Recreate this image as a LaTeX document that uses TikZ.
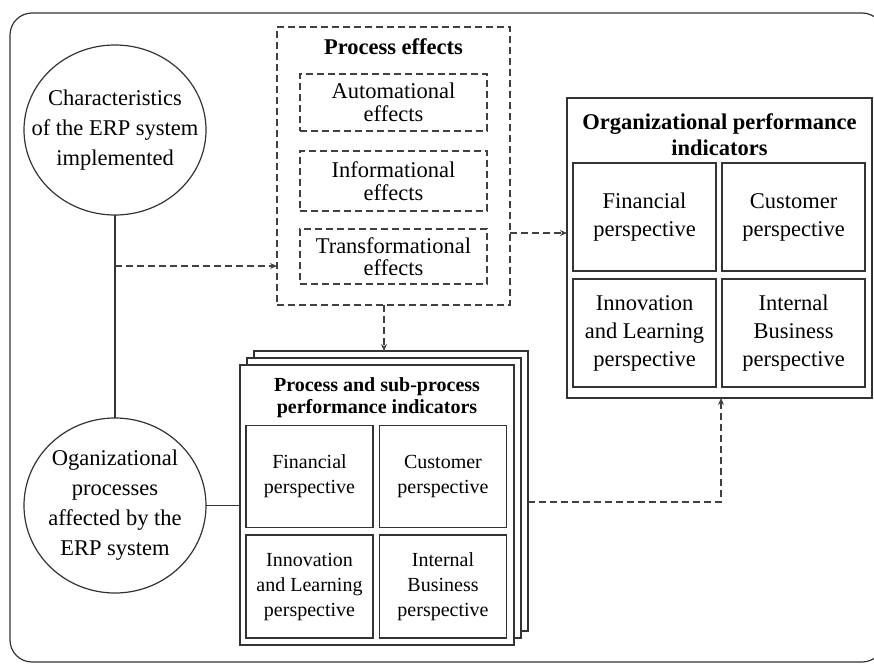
\documentclass[tikz,border=0pt]{standalone}
\usepackage{fontspec}
\setmainfont{Liberation Serif}
\usetikzlibrary{arrows.meta,shapes.geometric}
\begin{document}
\begin{tikzpicture}[x=1pt,y=-1pt,
  every node/.style={inner sep=0pt, outer sep=0pt, align=center, text=black},
  solidline/.style={line width=1.2pt, draw=black!80},
  dashline/.style={line width=1.2pt, draw=black!75, dash pattern=on 7pt off 4pt},
  arr/.style={-{Stealth[length=7pt,width=6pt]}},
  circ/.style={ellipse, solidline, fill=white},
  circtext/.style={font=\fontsize{22.5}{30}\selectfont},
  pebox/.style={dashline, font=\fontsize{22.5}{22.5}\selectfont},
  orgcell/.style={solidline, minimum width=143pt, minimum height=108pt, font=\fontsize{22.5}{28}\selectfont},
  stcell/.style={solidline, minimum width=127pt, minimum height=102pt, font=\fontsize{20}{25}\selectfont},
  layer/.style={solidline, fill=white, minimum width=274pt, minimum height=280pt},
  titlebig/.style={font=\fontsize{22.5}{26}\selectfont\bfseries},
  titlesmall/.style={font=\fontsize{20}{22}\selectfont\bfseries}
]
\useasboundingbox (0,0) rectangle (874,664);
\draw[solidline, rounded corners=22pt] (10,13) rectangle (884,662);

% circles
\node[circ, minimum width=182pt, minimum height=170pt] (c1) at (115,130) {};
\node[circtext] (c1t) at (c1.center) {Characteristics\\of the ERP system\\implemented};
\node[circ, minimum width=182pt, minimum height=175pt] (c2) at (115,505.5) {};
\node[circtext] (c2t) at (c2.center) {Oganizational\\processes\\affected by the\\ERP system};

% process effects
\node[pebox, minimum width=233pt, minimum height=278pt] (pe) at (393.5,166) {};
\node[titlebig] (pet) at (393.5,47) {Process effects};
\node[pebox, minimum width=187pt, minimum height=57pt] (auto) at (393.5,102.5) {Automational\\effects};
\node[pebox, minimum width=187pt, minimum height=60pt] (info) at (393.5,181) {Informational\\effects};
\node[pebox, minimum width=187pt, minimum height=55pt] (trans) at (393.5,256.5) {Transformational\\effects};

% organizational performance indicators
\node[solidline, minimum width=305pt, minimum height=300pt] (org) at (719.5,248) {};
\node[titlebig] (orgt) at (719.5,135) {Organizational performance\\indicators};
\node[orgcell] (of) at (644.5,217) {Financial\\perspective};
\node[orgcell] (oc) at (793.5,217) {Customer\\perspective};
\node[orgcell] (oi) at (644.5,333) {Innovation\\and Learning\\perspective};
\node[orgcell] (ob) at (793.5,333) {Internal\\Business\\perspective};

% process and sub-process stack
\node[layer] (back) at (391,491) {};
\node[layer] (mid) at (384,498) {};
\node[layer] (front) at (377,505) {};
\node[titlesmall] (stt) at (377,398) {Process and sub-process\\performance indicators};
\node[stcell] (sf) at (309.5,476.5) {Financial\\perspective};
\node[stcell] (sc) at (443,476.5) {Customer\\perspective};
\node[stcell, minimum height=103pt] (si) at (309.5,586.5) {Innovation\\and Learning\\perspective};
\node[stcell, minimum height=103pt] (sb) at (443,586.5) {Internal\\Business\\perspective};

% connectors
\draw[solidline] (c1.south) -- (c2.north);
\draw[solidline] (c2.east) -- (front.west |- c2.east);
\coordinate (j1) at (115,266);
\draw[dashline, arr] (j1) -- (j1 -| pe.west);
\coordinate (pb) at (384,0);
\draw[dashline, arr] (pe.south -| pb) -- (back.north -| pb);
\coordinate (pr) at (0,233);
\draw[dashline, arr] (pe.east |- pr) -- (org.west |- pr);
\coordinate (sr) at (721,502);
\draw[dashline, arr] (back.east |- sr) -- (sr) -- (org.south -| sr);
\end{tikzpicture}
\end{document}
